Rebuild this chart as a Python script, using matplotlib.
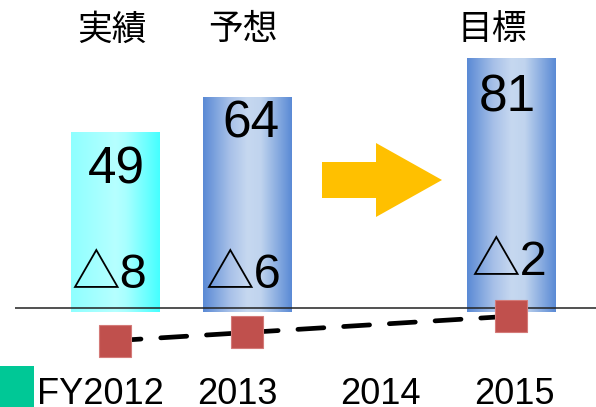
import numpy as np
import matplotlib
matplotlib.use("Agg")
import matplotlib.pyplot as plt
from matplotlib.colors import LinearSegmentedColormap
from matplotlib.patches import Polygon, Rectangle

# data
years = ["FY2012", "2013", "2014", "2015"]
headers = ["実績", "予想", "目標"]
bar_pos = [0, 1, 3]            # category index of each bar (no bar for 2014)
sales = [49, 64, 81]
profit = [-8, -6, -2]          # shown as "△" (negative) values
kinds = ["actual", "forecast", "target"]

W, H = 596, 407
fig = plt.figure(figsize=(W / 100, H / 100), dpi=100)

def fx(px):
    return px / W

def fy(py):
    return 1 - py / H

ax = fig.add_axes([fx(15), 0, fx(581), 1])
XL, YL = (-0.758, 3.644), (-69.0, 105.7)
floor = -28.2  # value axis floor the bars start from

grad = {
    "actual": LinearSegmentedColormap.from_list(
        "c", [(0, "#8EFFFF"), (0.5, "#B6FFFF"), (0.62, "#A8FFFF"), (1, "#45FFFF")]),
    "forecast": LinearSegmentedColormap.from_list(
        "b", [(0, "#5A8AD5"), (0.3, "#A7C0E8"), (0.5, "#C6D8F0"), (0.65, "#C0D4EE"), (1, "#5A8AD5")]),
}
grad["target"] = grad["forecast"]

bars = ax.bar(bar_pos, np.array(sales) - floor, bottom=floor, width=0.674,
              color="none", linewidth=0)
g = np.linspace(0, 1, 256).reshape(1, -1)
for b, k in zip(bars, kinds):
    x0, y0 = b.get_x(), b.get_y()
    im = ax.imshow(g, cmap=grad[k], aspect="auto", origin="lower",
                   extent=[x0, x0 + b.get_width(), y0, y0 + b.get_height()],
                   zorder=1)
    im.set_clip_path(b)
ax.set_xlim(*XL)
ax.set_ylim(*YL)
ax.axis("off")

num_font = ["Liberation Sans", "Noto Sans CJK JP"]
blend = ax.get_xaxis_transform()  # x in data, y in axes fraction

# sales values near the bar tops (baselines in pixels)
value_base = [183, 137, 112]
value_dx = [0.01, 0.03, -0.03]
for x, v, py, dx in zip(bar_pos, sales, value_base, value_dx):
    ax.text(x + dx, fy(py), str(v), transform=blend, ha="center",
            va="baseline", fontsize=37, family=num_font, zorder=3)

# profit labels inside bar feet
delta_base = [288, 288, 275]
delta_dx = [-0.04, -0.03, -0.01]
for x, p, py, dx in zip(bar_pos, profit, delta_base, delta_dx):
    ax.text(x + dx, fy(py), "△" + str(abs(p)), transform=blend, ha="center",
            va="baseline", fontsize=35, family=num_font, zorder=3)

# profit line on its own scale
ax2 = ax.twinx()
ax2.set_ylim(-24.26, 75.49)
ax2.axis("off")
ax2.axhline(0, color="#222222", lw=1.1)
ax2.plot(bar_pos, profit, color="black", lw=3.4, ls=(0, (5.5, 4.2)),
         solid_capstyle="round", dash_capstyle="round", zorder=2)
ax2.plot(bar_pos, profit, ls="none", marker="s", ms=23.5,
         mfc="#C0504D", mec="#D47A78", mew=0.8, zorder=3)

# category labels
label_px = [100, 237, 380, 514]
for px, t in zip(label_px, years):
    fig.text(fx(px), fy(404), t, ha="center", va="baseline",
             fontsize=26, family="Liberation Sans")

header_px = [112, 243, 492]
for px, t in zip(header_px, headers):
    fig.text(fx(px), fy(30), t, ha="center", va="center",
             fontsize=25, family="Noto Sans CJK JP")

# big arrow between forecast and target
arrow = [(322, 162), (376, 162), (376, 143), (442, 180),
         (376, 217), (376, 198), (322, 198)]
fig.patches.append(Polygon([(fx(a), fy(b)) for a, b in arrow], closed=True,
                           transform=fig.transFigure, color="#FFC000", lw=0))

# stray legend key at bottom left
fig.patches.append(Rectangle((0, 0), fx(34), fy(366),
                             transform=fig.transFigure, color="#00C896", lw=0))

fig.savefig("out.png", dpi=100)
